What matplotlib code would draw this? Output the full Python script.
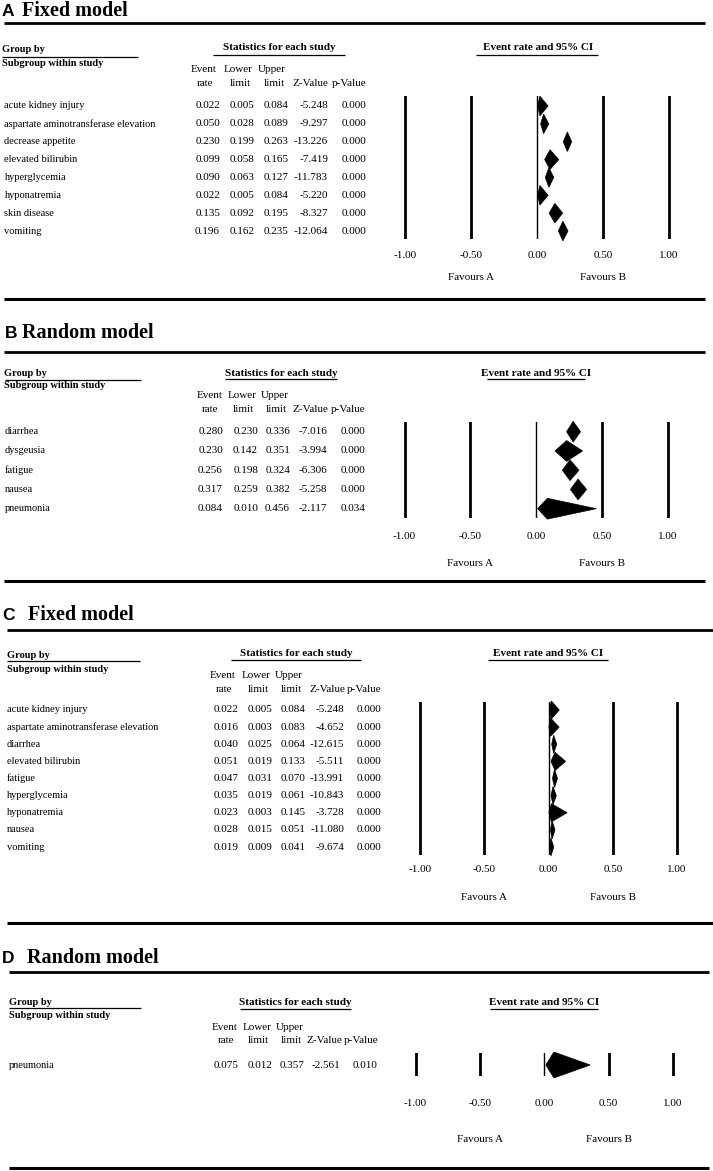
import numpy as np
import matplotlib
matplotlib.use('Agg')
import matplotlib.pyplot as plt
from matplotlib.patches import Polygon

plt.rcParams['font.family'] = ['Liberation Serif', 'DejaVu Serif']

W, H = 713, 1171

# ---- data ----
a_names = ['acute kidney injury', 'aspartate aminotransferase elevation', 'decrease appetite',
           'elevated bilirubin', 'hyperglycemia', 'hyponatremia', 'skin disease', 'vomiting']
a_rate = [0.022, 0.050, 0.230, 0.099, 0.090, 0.022, 0.135, 0.196]
a_lower = [0.005, 0.028, 0.199, 0.058, 0.063, 0.005, 0.092, 0.162]
a_upper = [0.084, 0.089, 0.263, 0.165, 0.127, 0.084, 0.195, 0.235]
a_z = [-5.248, -9.297, -13.226, -7.419, -11.783, -5.220, -8.327, -12.064]
a_p = [0.000, 0.000, 0.000, 0.000, 0.000, 0.000, 0.000, 0.000]

b_names = ['diarrhea', 'dysgeusia', 'fatigue', 'nausea', 'pneumonia']
b_rate = [0.280, 0.230, 0.256, 0.317, 0.084]
b_lower = [0.230, 0.142, 0.198, 0.259, 0.010]
b_upper = [0.336, 0.351, 0.324, 0.382, 0.456]
b_z = [-7.016, -3.994, -6.306, -5.258, -2.117]
b_p = [0.000, 0.000, 0.000, 0.000, 0.034]

c_names = ['acute kidney injury', 'aspartate aminotransferase elevation', 'diarrhea',
           'elevated bilirubin', 'fatigue', 'hyperglycemia', 'hyponatremia', 'nausea', 'vomiting']
c_rate = [0.022, 0.016, 0.040, 0.051, 0.047, 0.035, 0.023, 0.028, 0.019]
c_lower = [0.005, 0.003, 0.025, 0.019, 0.031, 0.019, 0.003, 0.015, 0.009]
c_upper = [0.084, 0.083, 0.064, 0.133, 0.070, 0.061, 0.145, 0.051, 0.041]
c_z = [-5.248, -4.652, -12.615, -5.511, -13.991, -10.843, -3.728, -11.080, -9.674]
c_p = [0.000, 0.000, 0.000, 0.000, 0.000, 0.000, 0.000, 0.000, 0.000]

d_names = ['pneumonia']
d_rate = [0.075]
d_lower = [0.012]
d_upper = [0.357]
d_z = [-2.561]
d_p = [0.010]

ticks = [-1.0, -0.5, 0.0, 0.5, 1.0]
tick_labels = ['-1.00', '-0.50', '0.00', '0.50', '1.00']

# ---- layout in pixels ----
lay_a = dict(letter_x=2, model_x=22, title_base=15.5, top_rule=23, bottom_rule=299, rule_x=(3.6, 705),
             group_x=2, group_y=50, group_ul_y=57, group_ul=(1.5, 137.6), sub_y=63,
             stats_x=279, hdr_y=48, stats_ul=(213, 345), ul_y=54.5, ci_x=537.6, ci_ul=(476, 598),
             h1_y=70, h2_y=83, h1_x=[204, 238, 272], h2_x=[205, 240, 274, 310.7, 349],
             name_x=4.5, row0=106, step=17.86, col_r=[220, 254.7, 288.8, 328, 366.7],
             vx=(405, 669), vtop=96, vbot=239, tick_y=255.7, fav_y=277, dh=0.55)
lay_b = dict(letter_x=4.5, model_x=22, title_base=338.3, top_rule=352, bottom_rule=581, rule_x=(3.6, 705),
             group_x=4.5, group_y=373, group_ul_y=380, group_ul=(4.5, 141), sub_y=386,
             stats_x=281, hdr_y=373, stats_ul=(224.6, 337), ul_y=378.5, ci_x=536, ci_ul=(486.5, 585.4),
             h1_y=396, h2_y=409, h1_x=[209.6, 242, 275], h2_x=[210, 243, 276.5, 310.7, 348.5],
             name_x=4.5, row0=431.7, step=19.25, col_r=[223, 258, 290, 327, 365.4],
             vx=(404.6, 668), vtop=421.7, vbot=518, tick_y=536.7, fav_y=564, dh=0.54)
lay_c = dict(letter_x=2.3, model_x=28, title_base=620, top_rule=630, bottom_rule=923.3, rule_x=(7, 713),
             group_x=7, group_y=655, group_ul_y=661, group_ul=(7, 140), sub_y=669,
             stats_x=296, hdr_y=653.3, stats_ul=(231, 361), ul_y=660, ci_x=548, ci_ul=(488, 608),
             h1_y=675.7, h2_y=689, h1_x=[223, 256.5, 289], h2_x=[223.7, 258, 291.6, 327, 364.5],
             name_x=6.8, row0=710, step=17.125, col_r=[238.3, 272.4, 305.7, 344, 381.8],
             vx=(420, 677), vtop=701.7, vbot=855, tick_y=870, fav_y=897.3, dh=0.53)
lay_d = dict(letter_x=2.3, model_x=27, title_base=963.3, top_rule=972.3, bottom_rule=1167.7, rule_x=(9, 709),
             group_x=9, group_y=1002.3, group_ul_y=1008, group_ul=(9, 141), sub_y=1016,
             stats_x=295, hdr_y=1002.7, stats_ul=(240, 351), ul_y=1008.5, ci_x=544, ci_ul=(490, 598),
             h1_y=1027.3, h2_y=1040.7, h1_x=[225, 257.4, 289.3], h2_x=[226, 258.3, 291.6, 324.4, 361.3],
             name_x=9, row0=1065, step=22, col_r=[238.3, 272.4, 304.3, 340.3, 377.2],
             vx=(415.5, 673), vtop=1053, vbot=1075.7, tick_y=1103, fav_y=1140, dh=0.59)

fig = plt.figure(figsize=(W / 100, H / 100), dpi=100)
ov = fig.add_axes([0, 0, 1, 1])
ov.set_xlim(0, W)
ov.set_ylim(H, 0)
ov.axis('off')

FS = 8
PX2PT = 72 / 100


def draw_panel(lay, letter, model, names, rate, lower, upper, zval, pval):
    # title and rules
    ov.text(lay['letter_x'], lay['title_base'], letter, family=['Liberation Sans', 'DejaVu Sans'],
            weight='bold', fontsize=12.5, va='baseline')
    ov.text(lay['model_x'], lay['title_base'], model, weight='bold', fontsize=14.5, va='baseline')
    ov.hlines(lay['top_rule'], *lay['rule_x'], color='black', lw=2.0)
    ov.hlines(lay['bottom_rule'], *lay['rule_x'], color='black', lw=2.2)

    # left header
    ov.text(lay['group_x'], lay['group_y'], 'Group by', weight='bold', fontsize=7.5, va='center')
    ov.hlines(lay['group_ul_y'], *lay['group_ul'], color='black', lw=0.9)
    ov.text(lay['group_x'], lay['sub_y'], 'Subgroup within study', weight='bold', fontsize=7.5, va='center')

    ov.text(lay['stats_x'], lay['hdr_y'], 'Statistics for each study', weight='bold', fontsize=8,
            ha='center', va='center')
    ov.hlines(lay['ul_y'], *lay['stats_ul'], color='black', lw=0.9)
    ov.text(lay['ci_x'], lay['hdr_y'], 'Event rate and 95% CI', weight='bold', fontsize=8,
            ha='center', va='center')
    ov.hlines(lay['ul_y'], *lay['ci_ul'], color='black', lw=0.9)

    for x, s in zip(lay['h1_x'], ['Event', 'Lower', 'Upper']):
        ov.text(x, lay['h1_y'], s, fontsize=FS, ha='center', va='center')
    for x, s in zip(lay['h2_x'], ['rate', 'limit', 'limit', 'Z-Value', 'p-Value']):
        ov.text(x, lay['h2_y'], s, fontsize=FS, ha='center', va='center')

    # table rows
    for i, nm in enumerate(names):
        y = lay['row0'] + i * lay['step']
        ov.text(lay['name_x'], y, nm, fontsize=7.5, va='center')
        vals = [rate[i], lower[i], upper[i], zval[i], pval[i]]
        for xr, v in zip(lay['col_r'], vals):
            ov.text(xr, y, '%.3f' % v, fontsize=FS, ha='right', va='center')

    # forest plot axes
    x_m1, x_p1 = lay['vx']
    unit = (x_p1 - x_m1) / 2
    pad = 0.1
    left_px = x_m1 - pad * unit
    right_px = x_p1 + pad * unit
    fa = fig.add_axes([left_px / W, 1 - lay['vbot'] / H, (right_px - left_px) / W,
                       (lay['vbot'] - lay['vtop']) / H])
    fa.set_xlim(-1 - pad, 1 + pad)
    n = len(names)
    step = lay['step']
    top_ext = (lay['row0'] - lay['vtop']) / step
    bot_ext = (lay['vbot'] - (lay['row0'] + (n - 1) * step)) / step
    fa.set_ylim(n - 1 + bot_ext, -top_ext)
    fa.axis('off')
    for t in ticks:
        fa.axvline(t, color='black', lw=1.0 if t == 0 else 2.0)
    h = lay['dh']
    for i in range(n):
        fa.add_patch(Polygon([(lower[i], i), (rate[i], i - h), (upper[i], i), (rate[i], i + h)],
                             closed=True, fc='black', ec='black', lw=0.5, clip_on=False))
    off = -(lay['tick_y'] - lay['vbot']) * PX2PT
    for t, lab in zip(ticks, tick_labels):
        fa.annotate(lab, xy=(t, 0), xycoords=('data', 'axes fraction'), xytext=(0, off),
                    textcoords='offset points', ha='center', va='center', fontsize=FS)
    off = -(lay['fav_y'] - lay['vbot']) * PX2PT
    for t, lab in [(-0.5, 'Favours A'), (0.5, 'Favours B')]:
        fa.annotate(lab, xy=(t, 0), xycoords=('data', 'axes fraction'), xytext=(0, off),
                    textcoords='offset points', ha='center', va='center', fontsize=8)


draw_panel(lay_a, 'A', 'Fixed model', a_names, a_rate, a_lower, a_upper, a_z, a_p)
draw_panel(lay_b, 'B', 'Random model', b_names, b_rate, b_lower, b_upper, b_z, b_p)
draw_panel(lay_c, 'C', 'Fixed model', c_names, c_rate, c_lower, c_upper, c_z, c_p)
draw_panel(lay_d, 'D', 'Random model', d_names, d_rate, d_lower, d_upper, d_z, d_p)

fig.savefig('out.png', dpi=100)
